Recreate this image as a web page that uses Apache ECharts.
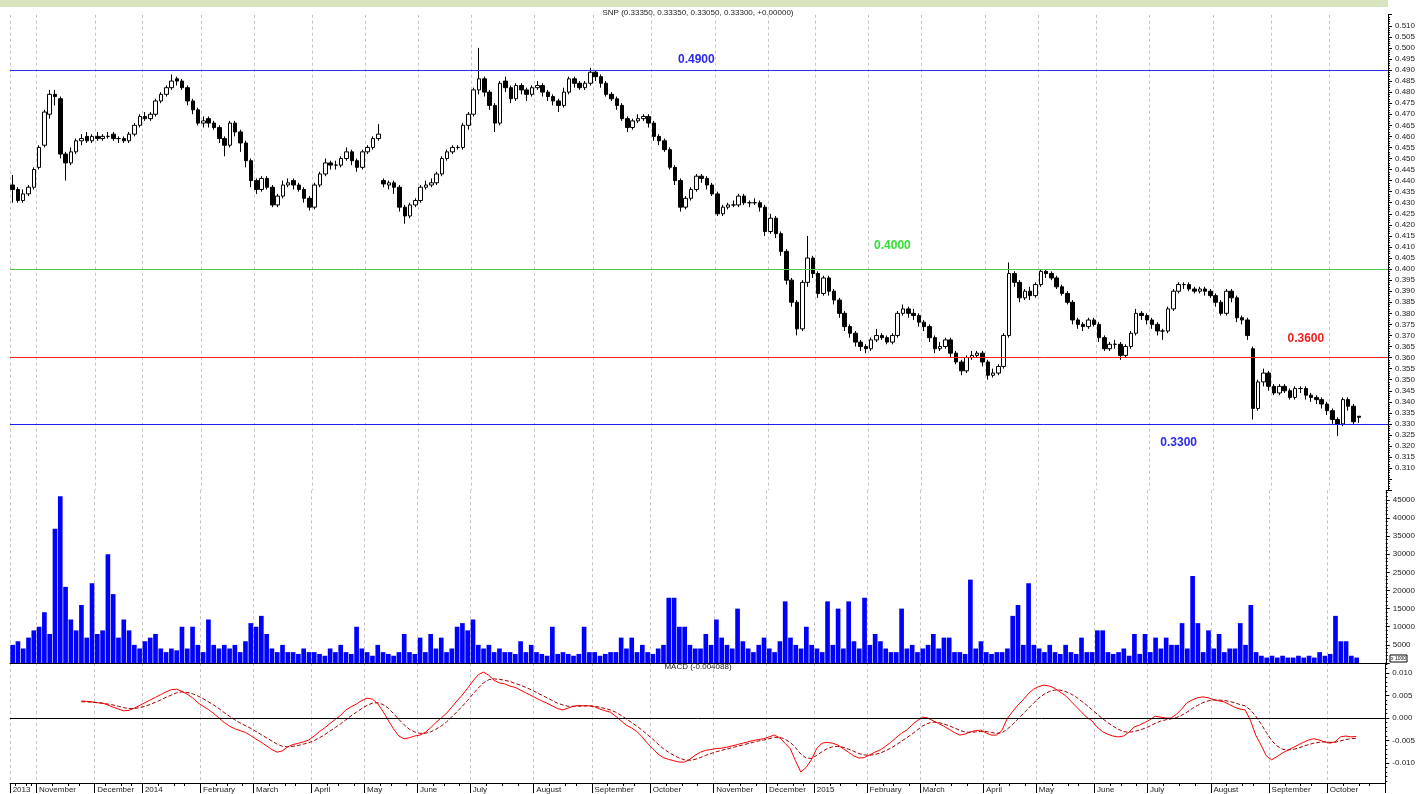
<!DOCTYPE html>
<html lang="en">
<head>
    <meta charset="UTF-8">
    <script src="https://cdn.jsdelivr.net/npm/echarts@6/dist/echarts.min.js"></script>
    <title>SNP</title>
    <style>
        html, body { margin: 0; padding: 0; background: #fff; }
        #main { width: 1418px; height: 794px; }
    </style>
</head>
<body>
<div id="main"></div>
<script>
    // one slot = two trading days, price in 1/1000
    var slotCount = 260;

    var monthStarts = [0, 5, 16, 25, 36, 46, 57, 67, 77, 87, 99, 110, 121, 133, 143, 152, 162, 172, 184, 194, 205, 215, 227, 238, 249, 260];
    var monthLabels = ['2013', 'November', 'December', '2014', 'February', 'March', 'April', 'May', 'June', 'July', 'August', 'September', 'October',
        'November', 'December', '2015', 'February', 'March', 'April', 'May', 'June', 'July', 'August', 'September', 'October'];

    var opens = [
        438,436,431,434,437,446,456,470,479,477, 452,448,453,458,460,458,460,459,460,461,
        459,459,458,461,465,469,468,470,476,479, 482,486,485,482,476,472,466,468,466,464,
        459,456,466,462,457,449,440,436,441,437, 429,433,438,440,438,436,432,428,438,443,
        448,447,447,450,453,449,446,453,455,459, 440,438,439,437,428,424,429,431,437,438,
        439,443,450,453,455,455,465,470,481,486, 480,474,466,485,482,477,483,481,479,482,
        483,480,478,476,474,480,486,484,482,484, 489,487,484,479,477,474,468,464,467,468,
        469,466,460,458,454,446,440,428,432,436, 442,441,438,434,425,428,429,429,433,430,
        430,430,428,417,423,416,408,395,385,373, 394,405,398,389,396,390,386,380,374,371,
        367,365,364,368,370,369,367,370,380,382, 380,379,376,374,369,364,365,368,362,358,
        354,360,361,362,358,352,353,356,370,398, 394,387,390,388,393,399,398,396,392,389,
        385,377,375,374,377,375,369,364,366,366, 361,365,371,380,379,377,375,372,372,382,
        390,393,393,391,390,391,390,388,385,380, 390,387,378,377,364,337,349,353,347,344,
        347,345,342,346,346,343,342,341,339,336, 332,330,341,338,333.5
    ];
    var closes = [
        436,431,434,437,445,455,471,479,478,452, 448,453,458,459,458,460,459,460,460,459,
        459,458,461,465,469,468,470,476,479,482, 485,485,482,476,472,466,467,466,464,459,
        456,466,462,457,449,440,436,441,437,429, 433,438,439,438,436,432,428,438,443,448,
        447,447,450,453,449,446,453,455,459,461, 438.5,439,437,428,424,429,431,437,438,439,
        443,450,453,455,455,465,470,481,486,480, 474,466,484,482,477,483,481,479,482,483,
        480,478,476,474,480,486,484,482,484,489, 487,484,479,477,474,468,464,467,468,469,
        466,460,458,454,446,440,428,432,436,442, 441,438,434,425,428,429,429,433,430,430,
        430,428,417,423,416,408,395,385,373,394, 405,398,389,396,390,386,380,374,371,367,
        365,364,368,370,369,367,370,380,382,380, 379,376,374,369,364,365,368,362,358,354,
        360,361,362,358,352,353,356,370,398,394, 387,390,388,393,399,398,396,392,389,385,
        377,375,374,377,375,369,364,366,366,361, 365,371,380,379,377,375,372,372,382,390,
        393,393,391,390,391,390,388,385,380,390, 387,378,377,370,337,349,353,347,344,347,
        345,342,346,346,343,342,341,339,336,332, 330,341,338,331,333
    ];
    var lows = [
        430,430,430,433,436,445,455,468,474,450, 440,447,452,456,457,457,458,458,459,458,
        457,457,457,460,464,467,467,469,475,478, 481,483,481,474,470,465,464,464,463,457,
        451,455,460,453,446,437,434,435,436,428, 428,432,437,436,435,430,426.5,427,437,442,
        445,445,446,449,447,444,445,452,454,458, 437,436,434,426,420.5,423,428,430,436,437,
        438,442,449,452,454,454,463,469,479,478, 472,462,465,480,475,476,479,476,478,481,
        478,476,474,471,473,479,482,481,481,483, 485,482,478,476,472,467,462,463,466,467,
        464,458,456,453,445,438,426,427,431,435, 439,436,433,424,424,427,428,428,429,428,
        429,426,415,416,414,406,393,383,370,372, 392,396,387,388,388,384,378,372,369,365,
        363,362,363,367,368,366,366,369,379,378, 377,374,372,367,362,363,364,360,357,352,
        353,359,360,356,350,351,352,355,369,392, 385,386,386,387,392,396,395,391,388,384,
        375,373,372,373,374,367,363,363,364,359, 360,364,370,377,375,373,370,368,371,381,
        389,391,390,389,389,388,387,383,379,379, 385,376,375,368,332,336,347,345,343,343,
        344,341,341,344,341,340,339,337,334,330, 324.5,329,336,330,330.5
    ];
    var highs = [
        442.5,437,436,438,446,456,472,481,481,478, 453,455,459,461,462,461,462,461,462,462,
        460,460,462,466,470,471,471,477,480,483, 488,487,486,483,477,473,469,469,467,465,
        460,467,467,463,458,450,441,442,442,438, 434,440,441,441,439,437,433,439,444,450,
        449,449,451,455,454,450,454,456,460,465.5, 441,440,440,438,429,430,432,438,440,441,
        444,451,454,456,456,466,471,482,500,487, 481,475,485,487,483,484,484,482,483,485,
        484,481,479,477,482,487,487,485,485,491, 490,488,485,480,478,475,469,468,470,470,
        470,467,461,459,455,447,441,433,437,443, 443,442,439,435,429,430,431,434,434,431,
        432,431,429,425,424,417,409,396,386,395, 415,406,399,397,397,391,387,381,375,372,
        368,366,369,373,371,370,371,381,384,383, 382,380,377,375,370,367,369,369,363,359,
        361,363,363,363,359,355,357,371,403,399, 395,391,392,394,400,400,399,397,393,390,
        386,378,376,378,378,376,370,367,368,367, 366,372,382,381,380,378,376,373,383,391,
        394,394,394,392,392,392,391,389,386,391, 391,388,379,378,365,350,355,354,348,348,
        348,346,347,347,347,344,343,342,340,337, 333,342,342,339,333.5
    ];

    var volumes = [
        5000,6000,4000,7000,9000,10000,14000,8000,37000,46000, 21000,12000,9000,16000,7000,22000,8000,9000,30000,19000,
        7000,12000,9000,5000,4000,6000,7000,8000,4000,3000, 4000,3500,10000,4000,10000,5000,3000,12000,5000,4000,
        5000,4000,5000,3000,6000,11000,10000,13000,8000,4000, 3000,5000,3000,3000,2500,4000,3000,3000,2500,2000,
        4000,3000,5000,3000,2500,10000,4000,3000,2000,5000, 3000,2500,2000,3000,8000,3000,2500,7000,3000,8000,
        4000,7000,3000,4000,10000,11000,9000,12000,5000,4000, 5000,3000,4000,3000,3000,2500,6000,3000,5000,3000,
        2500,2000,10000,2500,3000,2500,2000,2500,10000,3000, 3000,2000,2500,3000,3000,7000,4000,7000,3000,5000,
        3000,2500,4000,5000,18000,18000,10000,10000,5000,4000, 4000,8000,5000,12000,7000,5000,4000,15000,6000,4000,
        3000,5000,7000,4000,3000,6000,17000,7000,5000,4000, 10000,5000,4000,3000,17000,5000,15000,4000,17000,6000,
        4000,18000,5000,8000,6000,4000,3000,3000,15000,4000, 5000,3000,4000,5000,8000,4000,7000,7000,3000,3000,
        2500,23000,4000,6000,3000,2500,3000,3000,4000,13000, 16000,5000,22000,5000,4000,3000,5000,3000,2500,5000,
        3000,2500,7000,3000,3000,9000,9000,3000,2500,3000, 4000,2000,8000,2500,8000,3000,7000,4000,7000,5000,
        5000,11000,4000,24000,11000,3000,9000,4000,8000,3000, 4000,4000,11000,5000,16000,3000,2000,1500,2000,1500,
        2000,1500,1500,2000,1500,2000,1500,3000,2000,2500, 13000,6000,6000,2000,1500
    ];

    // MACD in 1/1000, first 13 slots have no value
    var macdLine = [
        null,null,null,null,null,null,null,null,null,null, null,null,null,3.8,3.7,3.6,3.4,3.3,2.9,2.4,
        2.0,1.6,1.7,2.2,2.8,3.4,4.0,4.6,5.2,5.8, 6.3,6.4,5.9,5.3,4.5,3.4,2.6,1.9,1.0,0.0,
        -1.0,-1.8,-2.4,-2.8,-3.2,-3.9,-4.7,-5.4,-6.2,-7.0, -7.6,-7.3,-6.4,-5.9,-5.6,-5.3,-4.9,-4.0,-3.0,-2.2,
        -1.2,-0.3,0.6,1.8,2.5,3.1,3.9,4.4,4.2,3.2, 1.5,-0.5,-2.4,-4.0,-4.6,-4.4,-4.0,-3.8,-3.2,-2.2,
        -1.0,0.0,1.0,2.4,3.8,5.1,6.6,8.2,9.6,10.2, 9.5,8.4,7.8,7.6,7.1,6.8,6.2,5.6,5.0,4.4,
        3.8,3.3,2.7,2.1,1.8,2.2,2.6,2.8,2.7,2.7, 2.5,2.0,1.6,1.3,0.4,-0.6,-1.6,-2.2,-3.0,-4.2,
        -5.6,-6.8,-8.0,-8.8,-9.2,-9.5,-9.8,-9.8,-9.2,-8.3, -7.6,-7.2,-7.0,-6.8,-6.7,-6.5,-6.2,-5.9,-5.6,-5.3,
        -5.0,-4.8,-4.6,-4.2,-3.8,-4.4,-5.6,-6.8,-9.5,-12.0, -11.0,-9.3,-6.8,-5.6,-5.4,-5.6,-6.0,-6.8,-7.6,-8.4,
        -8.9,-8.8,-8.2,-7.6,-7.1,-6.3,-5.4,-4.4,-3.4,-2.7, -1.6,-0.6,0.2,0.0,-0.6,-1.2,-1.8,-2.5,-3.2,-3.8,
        -3.6,-3.1,-2.8,-2.7,-3.3,-3.8,-3.8,-2.8,-0.2,1.4, 2.8,4.0,5.4,6.4,7.0,7.3,7.1,6.6,5.8,5.0,
        3.8,2.6,1.4,0.2,-0.6,-2.0,-3.0,-3.6,-4.0,-4.2, -4.0,-3.2,-2.0,-1.6,-1.0,-0.4,0.4,0.2,0.0,0.0,
        0.8,2.0,3.4,4.0,4.5,4.7,4.5,4.1,3.8,3.6, 3.0,2.4,2.0,1.8,-0.5,-3.8,-6.0,-8.4,-9.3,-8.6,
        -7.8,-7.2,-6.6,-6.0,-5.4,-4.9,-4.6,-4.9,-5.3,-5.6, -5.3,-4.2,-4.0,-4.2,-4.1
    ];
    var signalLine = [
        null,null,null,null,null,null,null,null,null,null, null,null,null,3.6,3.6,3.5,3.4,3.3,3.1,2.9,
        2.6,2.3,2.1,2.1,2.3,2.6,3.0,3.5,4.0,4.6, 5.1,5.6,5.8,5.7,5.4,4.9,4.3,3.6,2.9,2.1,
        1.2,0.4,-0.4,-1.1,-1.7,-2.3,-3.0,-3.7,-4.4,-5.1, -5.8,-6.3,-6.4,-6.3,-6.1,-5.8,-5.5,-5.0,-4.4,-3.7,
        -2.9,-2.1,-1.3,-0.4,0.5,1.3,2.1,2.8,3.3,3.4, 3.0,2.2,1.0,-0.3,-1.5,-2.5,-3.1,-3.4,-3.4,-3.1,
        -2.5,-1.8,-0.9,0.2,1.4,2.6,3.9,5.3,6.6,7.8, 8.5,8.7,8.6,8.4,8.1,7.7,7.3,6.8,6.3,5.7,
        5.1,4.5,3.9,3.3,2.9,2.6,2.6,2.6,2.7,2.7, 2.6,2.4,2.1,1.8,1.3,0.6,-0.2,-1.0,-1.8,-2.7,
        -3.7,-4.7,-5.8,-6.8,-7.6,-8.3,-8.9,-9.3,-9.4,-9.2, -8.8,-8.3,-7.9,-7.5,-7.2,-6.9,-6.6,-6.3,-6.0,-5.7,
        -5.4,-5.1,-4.9,-4.6,-4.3,-4.3,-4.7,-5.4,-6.6,-8.0, -8.9,-9.0,-8.3,-7.5,-6.8,-6.4,-6.3,-6.5,-6.9,-7.4,
        -7.9,-8.2,-8.3,-8.1,-7.8,-7.3,-6.7,-6.0,-5.2,-4.4, -3.6,-2.7,-1.8,-1.2,-0.9,-1.0,-1.3,-1.7,-2.2,-2.7,
        -3.1,-3.2,-3.1,-3.0,-3.0,-3.2,-3.4,-3.3,-2.5,-1.5, -0.3,0.9,2.1,3.3,4.4,5.3,5.9,6.2,6.2,5.9,
        5.4,4.7,3.8,2.9,1.9,0.9,-0.1,-1.0,-1.8,-2.5, -3.0,-3.2,-3.0,-2.7,-2.3,-1.8,-1.2,-0.7,-0.4,-0.2,
        0.1,0.6,1.3,2.1,2.8,3.4,3.8,4.0,4.0,3.9, 3.7,3.4,3.0,2.7,1.8,0.4,-1.3,-3.2,-5.0,-6.2,
        -6.9,-7.1,-7.0,-6.7,-6.3,-5.9,-5.6,-5.4,-5.3,-5.4, -5.4,-5.1,-4.8,-4.6,-4.5
    ];

    var levelValues = [0.49, 0.40, 0.36, 0.33];
    var levelColors = ['#2f2ff0', '#4cc84c', '#ff2020', '#1f1ff0'];
    var levelTextColors = ['#2a2ae8', '#33e033', '#f02020', '#2a2ae8'];
    var levelTextSlot = [129, 166, 244, 220];
    var levelTextValue = [0.4945, 0.4104, 0.3684, 0.3214];

    var macdTicks = [-0.01, -0.005, 0, 0.005, 0.01];

    var FONT = 'Liberation Sans, Arial, sans-serif';

    var slots = [];
    for (var i = 0; i < slotCount; i++) slots.push(String(i));

    var monthSet = {};
    var monthName = {};
    var weekSet = {};
    for (var m = 0; m < monthStarts.length; m++) {
        monthSet[monthStarts[m]] = true;
        if (m < monthLabels.length) monthName[monthStarts[m]] = monthLabels[m];
        if (m < monthStarts.length - 1) {
            var s = monthStarts[m], e = monthStarts[m + 1];
            for (var k = 1; k <= 3; k++) weekSet[Math.round(s + (e - s) * k / 4)] = true;
        }
    }

    var candles = [];
    for (var i = 0; i < closes.length; i++) {
        candles.push([opens[i] / 1000, closes[i] / 1000, lows[i] / 1000, highs[i] / 1000]);
    }
    var macdData = macdLine.map(function (v) { return v == null ? null : v / 1000; });
    var signalData = signalLine.map(function (v) { return v == null ? null : v / 1000; });

    var minorMacd = [];
    for (var t = -14; t <= 12; t++) minorMacd.push(t / 1000);

    var monthGrid = function (idx) { return monthSet[idx] === true; };
    var splitDash = { show: true, interval: monthGrid, lineStyle: { color: '#c4c4c4', width: 1, type: [3, 3] } };

    var rightAxisBase = {
        position: 'right',
        axisLine: { show: true, lineStyle: { color: '#000', width: 1 } },
        axisTick: { show: true, length: 4, lineStyle: { color: '#000' } },
        splitLine: { show: false },
        axisLabel: { color: '#222', fontSize: 8, fontFamily: FONT, margin: 7 }
    };

    // one empty helper series per level line so every line keeps its own colour
    var levelSeries = levelValues.map(function (v, i) {
        return {
            name: 'level' + i, type: 'line', xAxisIndex: 0, yAxisIndex: 0, data: [],
            silent: true,
            markLine: {
                silent: true, symbol: 'none', animation: false,
                lineStyle: { color: levelColors[i], width: 1, type: 'solid' },
                label: { show: false },
                data: [{ yAxis: v }]
            },
            markPoint: {
                silent: true, symbol: 'rect', symbolSize: 1,
                itemStyle: { color: 'rgba(0,0,0,0)' },
                label: {
                    show: true, position: 'inside', formatter: v.toFixed(4),
                    color: levelTextColors[i], fontWeight: 'bold', fontSize: 12, fontFamily: FONT
                },
                data: [{ coord: [levelTextSlot[i], levelTextValue[i]] }]
            }
        };
    });

    var chart = echarts.init(document.getElementById('main'));

    var option = {
        animation: false,
        backgroundColor: '#ffffff',
        grid: [
            { left: 10, right: 28, top: 14.7, height: 475.6 },
            { left: 10, right: 28, top: 490.3, height: 172.7 },
            { left: 10, right: 28, top: 663, height: 120 }
        ],
        xAxis: [
            {
                type: 'category', gridIndex: 0, data: slots, boundaryGap: true,
                axisLine: { show: false }, axisTick: { show: false }, axisLabel: { show: false },
                splitLine: splitDash
            },
            {
                type: 'category', gridIndex: 1, data: slots, boundaryGap: true,
                axisLine: { show: true, onZero: false, lineStyle: { color: '#000', width: 1 } },
                axisTick: { show: false }, axisLabel: { show: false },
                splitLine: splitDash
            },
            {
                type: 'category', gridIndex: 2, data: slots, boundaryGap: true, position: 'bottom',
                axisLine: { show: true, onZero: false, lineStyle: { color: '#000', width: 1 } },
                axisTick: { show: true, interval: monthGrid, length: 10, lineStyle: { color: '#000' } },
                axisLabel: {
                    show: true, interval: monthGrid, align: 'left', margin: 3,
                    color: '#222', fontSize: 8, fontFamily: FONT,
                    formatter: function (v) { return monthName[Number(v)] || ''; }
                },
                splitLine: splitDash
            },
            {
                type: 'category', gridIndex: 2, data: slots, boundaryGap: true, position: 'bottom',
                axisLine: { show: false, onZero: false },
                axisTick: { show: true, interval: function (idx) { return weekSet[idx] === true; }, length: 3, lineStyle: { color: '#000' } },
                axisLabel: { show: false },
                splitLine: { show: false }
            }
        ],
        yAxis: [
            Object.assign({}, rightAxisBase, {
                type: 'value', gridIndex: 0, min: 0.300, max: 0.515, interval: 0.005,
                minorTick: { show: true, splitNumber: 5, length: 2, lineStyle: { color: '#000' } },
                axisLabel: Object.assign({}, rightAxisBase.axisLabel, {
                    formatter: function (v) { return (v > 0.3095 && v < 0.5105) ? v.toFixed(3) : ''; }
                })
            }),
            Object.assign({}, rightAxisBase, {
                type: 'value', gridIndex: 1, min: 0, max: 47641, interval: 5000,
                minorTick: { show: true, splitNumber: 5, length: 2, lineStyle: { color: '#000' } },
                axisLabel: Object.assign({}, rightAxisBase.axisLabel, {
                    showMaxLabel: false,
                    formatter: function (v) { return (v > 0 && v % 5000 === 0) ? String(v) : ''; }
                })
            }),
            Object.assign({}, rightAxisBase, {
                type: 'value', gridIndex: 2, min: -0.014444, max: 0.012222,
                axisTick: { show: true, length: 4, customValues: macdTicks, lineStyle: { color: '#000' } },
                axisLabel: Object.assign({}, rightAxisBase.axisLabel, {
                    customValues: macdTicks,
                    formatter: function (v) { return v.toFixed(3); }
                })
            }),
            {
                type: 'value', gridIndex: 2, min: -0.014444, max: 0.012222, position: 'right',
                axisLine: { show: false }, splitLine: { show: false }, axisLabel: { show: false },
                axisTick: { show: true, length: 2, customValues: minorMacd, lineStyle: { color: '#000' } }
            }
        ],
        series: levelSeries.concat([
            {
                name: 'SNP', type: 'candlestick', xAxisIndex: 0, yAxisIndex: 0,
                data: candles, barWidth: 4,
                itemStyle: { color: '#ffffff', color0: '#000000', borderColor: '#000000', borderColor0: '#000000', borderWidth: 1 }
            },
            {
                name: 'Volume', type: 'bar', xAxisIndex: 1, yAxisIndex: 1,
                data: volumes, barWidth: '88%',
                itemStyle: { color: '#0000ff' }
            },
            {
                name: 'MACD', type: 'line', xAxisIndex: 2, yAxisIndex: 2,
                data: macdData, symbol: 'none', connectNulls: false,
                lineStyle: { color: '#ff0000', width: 1 },
                markLine: {
                    silent: true, symbol: 'none', label: { show: false },
                    lineStyle: { color: '#000000', width: 1, type: 'solid' },
                    data: [{ yAxis: 0 }]
                }
            },
            {
                name: 'Signal', type: 'line', xAxisIndex: 2, yAxisIndex: 2,
                data: signalData, symbol: 'none',
                lineStyle: { color: '#a00000', width: 1, type: [4, 2] }
            }
        ]),
        graphic: [
            { type: 'rect', left: 0, top: 0, shape: { width: 1388, height: 7 }, style: { fill: '#d7e4bd' }, silent: true },
            {
                type: 'text', x: 698, y: 13, silent: true,
                style: { text: 'SNP (0.33350, 0.33350, 0.33050, 0.33300, +0.00000)', fill: '#222', font: '8px ' + FONT, align: 'center', verticalAlign: 'middle' }
            },
            {
                type: 'text', x: 698, y: 667, silent: true,
                style: { text: 'MACD (-0.004088)', fill: '#222', font: '8px ' + FONT, align: 'center', verticalAlign: 'middle' }
            },
            {
                type: 'group', x: 1390, y: 655, silent: true,
                children: [
                    { type: 'rect', shape: { x: 0, y: 0, width: 17, height: 7 }, style: { fill: '#fff', stroke: '#000', lineWidth: 1 } },
                    { type: 'text', x: 8.5, y: 3.5, style: { text: 'x 1000', fill: '#000', font: '5px ' + FONT, align: 'center', verticalAlign: 'middle' } }
                ]
            }
        ]
    };

    chart.setOption(option);
</script>
</body>
</html>
